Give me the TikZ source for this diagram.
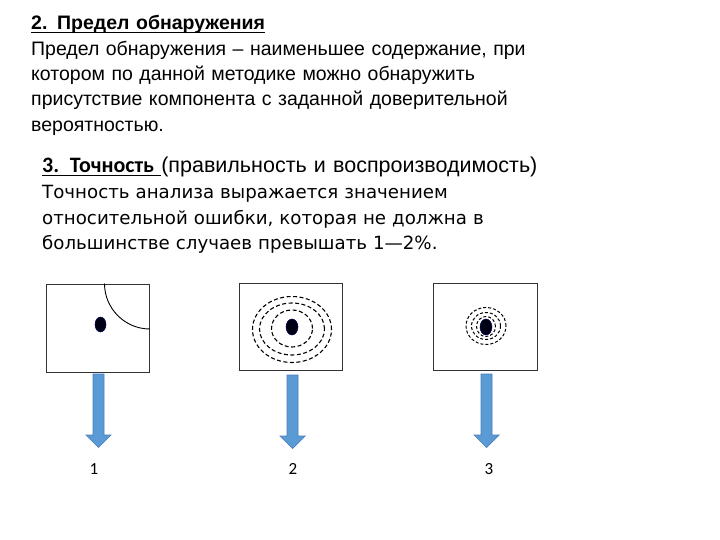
\documentclass[tikz,border=0pt]{standalone}
\usepackage{fontspec}
\setmainfont{Liberation Sans}
\newfontfamily\calfont{Carlito}
\newfontfamily\handfont{DejaVu Sans}
\usetikzlibrary{calc,shapes.geometric}
\definecolor{arrowblue}{HTML}{5B9BD5}
\definecolor{arrowedge}{HTML}{4A7EBB}
\newcommand\lowbar[1]{\setbox0\hbox{#1}\rlap{\rule[-3pt]{\wd0}{1.2pt}}\box0}
\tikzset{
	txt/.style={anchor=base west, inner sep=0pt, text width=660pt, align=left},
	frame/.style={draw=black!80, line width=1pt, minimum width=103pt, minimum height=87pt, inner sep=0pt},
	spot/.style={ellipse, fill=black!92!blue, draw=blue!35!black, line width=0.5pt, inner sep=0pt},
	ring/.style={draw=black, line width=1.1pt, dash pattern=on 4pt off 2.5pt},
	smallring/.style={ring, line width=1pt, dash pattern=on 3pt off 2pt},
	blockarrow/.style={fill=arrowblue, draw=arrowedge, line width=0.7pt, line join=miter},
	num/.style={font=\calfont\fontsize{17}{18}\selectfont, inner sep=0pt, anchor=base}
}

\begin{document}
\begin{tikzpicture}[x=1pt, y=1pt]
		\useasboundingbox (0,0) rectangle (720,-540);
		% texts
		\node[txt, font=\fontsize{19.5}{25.3}\selectfont] (limit) at (31,-30)
		{\textbf{\lowbar{2. Предел обнаружения}}\\
			Предел обнаружения – наименьшее содержание, при\\
			котором по данной методике можно обнаружить\\
			присутствие компонента с заданной доверительной\\
			вероятностью.};
		\node[txt, font=\fontsize{21.5}{22}\selectfont] (accuracy) at (42,-173)
		{{\calfont\fontsize{22}{22}\selectfont\bfseries\lowbar{3. Точность }}(правильность и воспроизводимость)};
		\node[txt, font=\handfont\fontsize{18.2}{25.5}\selectfont] (error) at (42,-199)
		{Точность анализа выражается значением\\
			относительной ошибки, которая не должна в\\
			большинстве случаев превышать 1—2\%.};
		% three targets
		\node[frame, minimum height=88pt] (box1) at (97.5,-328) {};
		\node[frame] (box2) at (290.5,-326.5) {};
		\node[frame, minimum width=104pt] (box3) at (485,-326.5) {};
		\draw[line width=0.9pt] (box1.north east) ++(-45,0) arc (180:270:45.5);
		\node[spot, minimum width=11pt, minimum height=15pt] (dot1) at (100.5,-324.5) {};
		\node[spot, minimum width=12pt, minimum height=16pt] (dot2) at (292,-327) {};
		\node[spot, minimum width=12pt, minimum height=16pt] (dot3) at (486,-327) {};
		\draw[ring] (292,-329.5) ellipse [x radius=39.5, y radius=33];
		\draw[ring] (292,-329) ellipse [x radius=32.5, y radius=26];
		\draw[ring] (292,-328.5) ellipse [x radius=20.5, y radius=18.5];
		\draw[smallring] (486,-326) ellipse [x radius=20, y radius=18.5];
		\draw[smallring] (486,-326) ellipse [x radius=14.5, y radius=13.5];
		\draw[smallring] (486,-326.5) ellipse [x radius=9.5, y radius=10];
		% arrows and numbers
		\coordinate (top1) at (98.5,-374);
		\coordinate (top2) at (292.5,-375);
		\coordinate (top3) at (486.5,-374);
		\foreach \t in {top1,top2,top3}
		\draw[blockarrow] (\t) ++(-5.5,0) -- ++(11,0) -- ++(0,-61) -- ++(7,0)
		-- ++(-12.5,-12.5) -- ++(-12.5,12.5) -- ++(7,0) -- cycle;
		\node[num] (n1) at (94,-474) {1};
		\node[num] (n2) at (293,-474) {2};
		\node[num] (n3) at (489,-474) {3};
	\end{tikzpicture}
\end{document}
